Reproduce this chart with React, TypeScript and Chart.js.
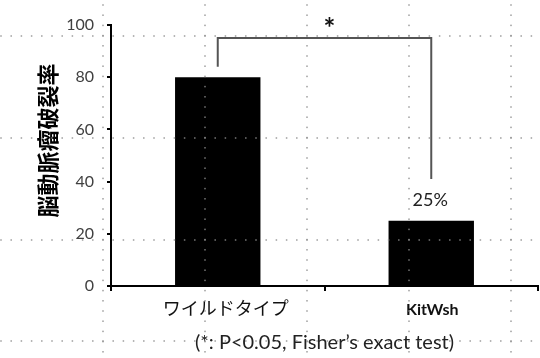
import { useEffect, useRef } from "react";
import { Chart, registerables } from "chart.js";

Chart.register(...registerables);

const categories = ["ワイルドタイプ", "KitWsh"];
const ruptureRates = [80, 25];
const barLabels = ["", "25%"];
const yTickValues = [0, 20, 40, 60, 80, 100];
const bracketLevels = [84, 95, 41]; // left end, top bar, right end
const significanceMark = "*";
const significanceLevel = 102;
const yTitle = "脳動脈瘤破裂率";
const footnote = "(*: P<0.05, Fisher’s exact test)";

const LATIN = "Lato, 'Noto Sans', sans-serif";
const CJK = "'Noto Sans CJK JP', 'Noto Sans', sans-serif";

const annotationPlugin = {
  id: "annotations",
  afterDatasetsDraw(chart: any) {
    const ctx = chart.ctx;
    const meta = chart.getDatasetMeta(0);
    const x = chart.scales.x;
    const y = chart.scales.y;
    const area = chart.chartArea;
    ctx.save();
    // bar value labels
    ctx.fillStyle = "#222";
    ctx.font = `18px ${LATIN}`;
    ctx.textAlign = "center";
    ctx.textBaseline = "bottom";
    meta.data.forEach((bar: any, i: number) => {
      if (barLabels[i]) ctx.fillText(barLabels[i], bar.x - 1, bar.y - 12);
    });
    // category labels
    ctx.fillStyle = "#111";
    ctx.textBaseline = "alphabetic";
    categories.forEach((cat, i) => {
      const px = x.getPixelForTick(i);
      if (i === 0) {
        ctx.font = `18px ${CJK}`;
        ctx.fillText(cat, px + 8, area.bottom + 29);
      } else {
        ctx.font = `bold 16px ${LATIN}`;
        ctx.fillText(cat, px + 1, area.bottom + 29);
      }
    });
    // significance bracket
    const x0 = meta.data[0].x;
    const x1 = meta.data[1].x;
    ctx.strokeStyle = "#555";
    ctx.lineWidth = 2;
    ctx.beginPath();
    ctx.moveTo(x0, y.getPixelForValue(bracketLevels[0]));
    ctx.lineTo(x0, y.getPixelForValue(bracketLevels[1]));
    ctx.lineTo(x1, y.getPixelForValue(bracketLevels[1]));
    ctx.lineTo(x1, y.getPixelForValue(bracketLevels[2]));
    ctx.stroke();
    ctx.fillStyle = "#111";
    ctx.font = `bold 28px ${LATIN}`;
    ctx.textBaseline = "middle";
    ctx.fillText(significanceMark, (x0 + x1) / 2 + 5, y.getPixelForValue(significanceLevel) + 9);
    // y axis title
    ctx.save();
    ctx.translate(48, (area.top + area.bottom) / 2 - 15);
    ctx.rotate(-Math.PI / 2);
    ctx.fillStyle = "#000";
    ctx.font = `bold 22px ${CJK}`;
    ctx.textBaseline = "middle";
    ctx.fillText(yTitle, 0, 0);
    ctx.restore();
    ctx.restore();
  },
};

// decorative dotted layout grid that overlays the whole picture
const overlayPlugin = {
  id: "overlayGrid",
  afterDraw(chart: any) {
    const ctx = chart.ctx;
    const W = chart.width;
    const H = chart.height;
    const xs = [103, 205, 307, 409, 511];
    const ys = [36, 138, 240, 341];
    ctx.save();
    ctx.fillStyle = "rgba(140,140,140,0.85)";
    for (const gx of xs) {
      for (let py = 5; py < H; py += 10.2) ctx.fillRect(gx - 0.75, py - 0.75, 1.5, 1.5);
    }
    for (const gy of ys) {
      for (let px = 1; px < W; px += 10.2) ctx.fillRect(px - 0.75, gy - 0.75, 1.5, 1.5);
    }
    ctx.restore();
  },
};

export default function App() {
  const ref = useRef<HTMLCanvasElement | null>(null);
  useEffect(() => {
    if (!ref.current) return;
    const chart = new Chart(ref.current, {
      type: "bar",
      data: {
        labels: categories,
        datasets: [
          {
            data: ruptureRates,
            backgroundColor: "#000",
            borderWidth: 0,
            barPercentage: 0.4,
            categoryPercentage: 1,
          },
        ],
      },
      options: {
        animation: false,
        responsive: false,
        maintainAspectRatio: false,
        layout: { padding: { left: 0, top: 25, right: 2, bottom: 0 } },
        plugins: {
          legend: { display: false },
          tooltip: { enabled: false },
        },
        scales: {
          x: {
            grid: { display: true, drawOnChartArea: false, drawTicks: true, tickLength: 5, color: "#000", lineWidth: 2, offset: true },
            border: { display: true, color: "#000", width: 2 },
            ticks: { display: false },
            title: {
              display: true,
              text: footnote,
              color: "#222",
              font: { family: LATIN, size: 20, weight: "normal" },
              padding: { top: 0, bottom: 3 },
            },
            afterFit: (s: any) => {
              s.height = 72;
            },
          },
          y: {
            min: 0,
            max: 100,
            afterBuildTicks: (s: any) => {
              s.ticks = yTickValues.map((v) => ({ value: v }));
            },
            grid: { display: true, drawOnChartArea: false, drawTicks: true, tickLength: 4, color: "#000", lineWidth: 2 },
            border: { display: true, color: "#000", width: 2 },
            ticks: { color: "#404040", padding: 13, font: { family: LATIN, size: 16 } },
            afterFit: (s: any) => {
              s.width = 111;
            },
          },
        },
      },
      plugins: [annotationPlugin, overlayPlugin],
    });
    return () => chart.destroy();
  }, []);
  return (
    <div style={{ position: "fixed", left: 0, top: 0, width: 540, height: 358, background: "#fff" }}>
      <canvas ref={ref} width={540} height={358} style={{ width: 540, height: 358 }} />
    </div>
  );
}
